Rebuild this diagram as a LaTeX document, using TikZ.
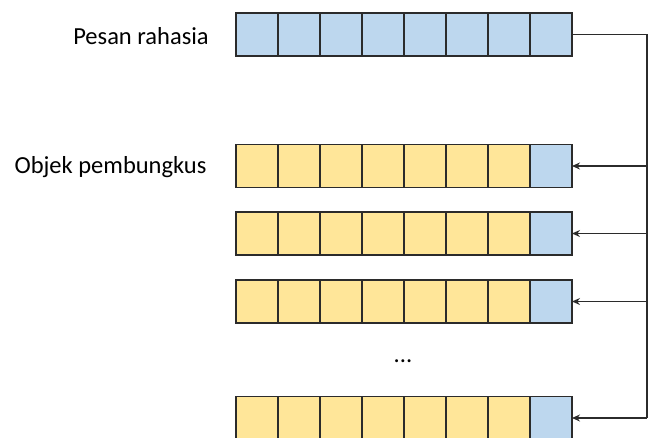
\documentclass[tikz,border=0pt]{standalone}
\usepackage{fontspec}
\setmainfont{Carlito}
\usetikzlibrary{arrows.meta}
\definecolor{cblue}{HTML}{BDD7EE}
\definecolor{cyellow}{HTML}{FFE699}
\definecolor{cline}{HTML}{2B2B2B}
\tikzset{
  cell/.style={draw=cline, line width=1.3pt, minimum width=42pt, minimum height=43pt, inner sep=0pt, outer sep=0pt},
  bluecell/.style={cell, fill=cblue},
  yelcell/.style={cell, fill=cyellow},
  conn/.style={draw=cline, line width=1.2pt},
  arr/.style={conn, -{Stealth[length=8pt,width=7pt]}},
  lbl/.style={font=\fontsize{24.5}{28}\selectfont, anchor=center, inner sep=0pt}
}
\begin{document}
\begin{tikzpicture}[x=1pt,y=-1pt]
\useasboundingbox (0,0) rectangle (651,437);
% top row
\foreach \i in {1,...,8}{
  \node[bluecell] (r1c\i) at ({236+21+42*(\i-1)},34.5) {};
}
% cover rows
\foreach \r/\y in {2/166,3/233.5,4/301.5,5/418}{
  \foreach \i in {1,...,7}{
    \node[yelcell] (r\r c\i) at ({236+21+42*(\i-1)},\y) {};
  }
  \node[bluecell] (r\r c8) at ({236+21+42*7},\y) {};
}
\node[lbl] (t1) at (141,36) {Pesan rahasia};
\node[lbl] (t2) at (110.5,167) {Objek pembungkus};
\node[lbl] (dots) at (403,361) {...};
\coordinate (tr) at (647,34.5);
\coordinate (br) at (647,418);
\draw[conn] (r1c8.east) -- (tr) -- (br);
\draw[arr] (br) -- (r5c8.east);
\foreach \r in {2,3,4}{
  \draw[arr] (r\r c8.east -| tr) -- (r\r c8.east);
}
\end{tikzpicture}
\end{document}
